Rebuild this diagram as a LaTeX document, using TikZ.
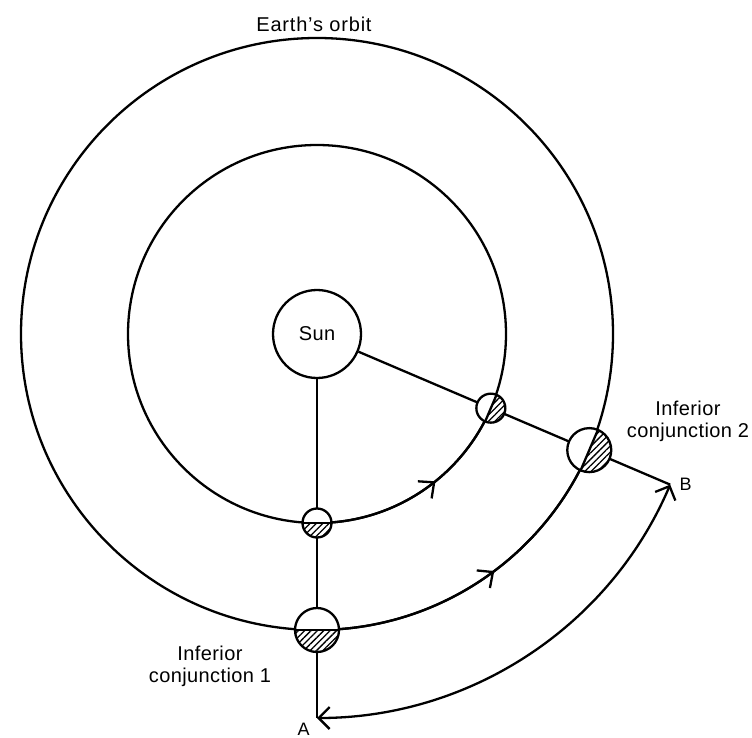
\documentclass[tikz,border=0pt]{standalone}
\usepackage{fontspec}
\setmainfont{Liberation Sans}
\newfontfamily\lblfont[LetterSpace=2]{Liberation Sans}
\newfontfamily\orbfont[LetterSpace=4]{Liberation Sans}
\usetikzlibrary{arrows.meta,patterns.meta,decorations.markings}
\newcommand\drawplanet[4]{%
  \node[circle, minimum size={2*#4pt}, inner sep=0pt, fill=white] (#1) at (#2) {};
  \fill[pattern={Lines[angle=45,distance=4.5pt,line width=1.3pt]}] (#2) ++(#3-90:#4) arc[start angle=#3-90, end angle=#3+90, radius=#4] -- cycle;
  \draw (#2) ++(#3-90:#4) -- ++(#3+90:2*#4);
  \draw (#2) circle[radius=#4];
}
\begin{document}
\begin{tikzpicture}[x=1pt,y=-1pt,line width=2.3pt,
  lbl/.style={font=\lblfont\fontsize{20}{22}\selectfont, inner sep=0pt, align=center},
  orbitarrow/.style={postaction={decorate}, decoration={markings, mark=at position #1 with {\arrow{Straight Barb[length=12pt,width=22pt]}}}}]
\useasboundingbox (0,0) rectangle (752,738);
\coordinate (O) at (317,334);
\path (O) ++(90:384) coordinate (A);
\path (O) ++(23.1:384) coordinate (B);
\path (O) ++(90:189) coordinate (v1);
\path (O) ++(90:296) coordinate (e1);
\path (O) ++(23.1:189) coordinate (v2);
\path (O) ++(23.1:296) coordinate (e2);
% orbits
\draw (O) circle[radius=189];
\draw (O) circle[radius=296];
\draw[orbitarrow=0.58] (v1) arc[start angle=90, end angle=23.1, radius=189];
\draw[orbitarrow=0.55] (e1) arc[start angle=90, end angle=23.1, radius=296];
% sun
\node[circle, draw, fill=white, minimum size=88pt, inner sep=0pt, font=\lblfont\fontsize{20}{22}\selectfont] (sun) at (O) {Sun};
\draw (sun) -- (A);
\draw (sun) -- (B);
% A-B arc
\draw[{Straight Barb[length=11pt,width=22pt]}-{Straight Barb[length=11pt,width=22pt]}] (A) arc[start angle=90, end angle=23.1, radius=384];
% planets
\drawplanet{venus1}{v1}{90}{14.5}
\drawplanet{earth1}{e1}{90}{22}
\drawplanet{venus2}{v2}{23.1}{14.5}
\drawplanet{earth2}{e2}{23.1}{22}
% labels
\node[inner sep=0pt, font=\orbfont\fontsize{20}{22}\selectfont] (eo) at (314,24) {Earth’s orbit};
\node[lbl] (ic2) at (688,421) {Inferior\\conjunction 2};
\node[lbl] (ic1) at (210,666) {Inferior\\conjunction 1};
\node[lbl, font=\lblfont\fontsize{18}{20}\selectfont] (la) at (303.5,729) {A};
\node[lbl, font=\lblfont\fontsize{18}{20}\selectfont] (lb) at (685.5,484) {B};
\end{tikzpicture}
\end{document}
